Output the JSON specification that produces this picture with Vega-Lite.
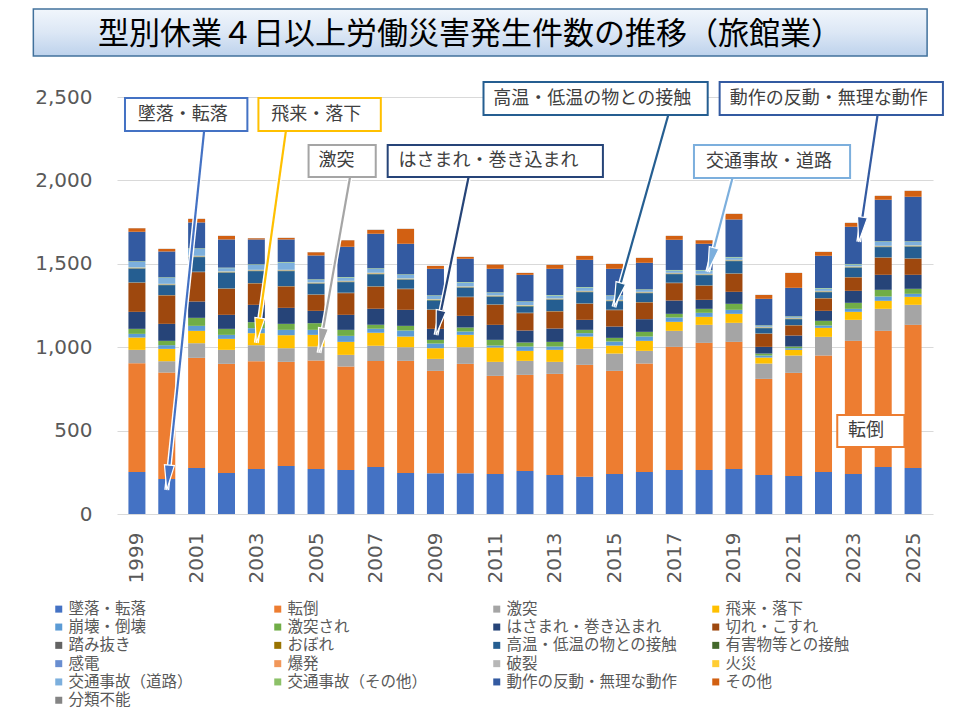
{
  "$schema": "https://vega.github.io/schema/vega-lite/v6.json",
  "autosize": "none",
  "width": 816,
  "height": 417,
  "padding": {"left": 117, "top": 97, "right": 27, "bottom": 206},
  "background": "white",
  "title": {
    "text": "型別休業４日以上労働災害発生件数の推移（旅館業）",
    "font": "Noto Sans CJK JP",
    "fontSize": 31,
    "fontWeight": "normal",
    "color": "#000000",
    "frame": "group",
    "anchor": "middle",
    "baseline": "alphabetic",
    "dx": -55,
    "offset": -67
  },
  "datasets": {
    "counts": [
      {"year": 1999, "墜落・転落": 252, "転倒": 652, "激突": 80, "飛来・落下": 74, "崩壊・倒壊": 22, "激突され": 30, "はさまれ・巻き込まれ": 102, "切れ・こすれ": 174, "踏み抜き": 2, "おぼれ": 1, "高温・低温の物との接触": 81, "有害物等との接触": 3, "感電": 1, "爆発": 1, "破裂": 1, "火災": 2, "交通事故（道路）": 34, "交通事故（その他）": 3, "動作の反動・無理な動作": 177, "その他": 21, "分類不能": 1},
      {"year": 2000, "墜落・転落": 210, "転倒": 638, "激突": 68, "飛来・落下": 74, "崩壊・倒壊": 22, "激突され": 26, "はさまれ・巻き込まれ": 102, "切れ・こすれ": 170, "踏み抜き": 2, "おぼれ": 1, "高温・低温の物との接触": 59, "有害物等との接触": 3, "感電": 1, "爆発": 1, "破裂": 1, "火災": 2, "交通事故（道路）": 36, "交通事故（その他）": 3, "動作の反動・無理な動作": 155, "その他": 15, "分類不能": 1},
      {"year": 2001, "墜落・転落": 276, "転倒": 660, "激突": 88, "飛来・落下": 74, "崩壊・倒壊": 30, "激突され": 48, "はさまれ・巻き込まれ": 98, "切れ・こすれ": 176, "踏み抜き": 2, "おぼれ": 1, "高温・低温の物との接触": 87, "有害物等との接触": 3, "感電": 1, "爆発": 1, "破裂": 1, "火災": 2, "交通事故（道路）": 42, "交通事故（その他）": 3, "動作の反動・無理な動作": 155, "その他": 21, "分類不能": 1},
      {"year": 2002, "墜落・転落": 246, "転倒": 654, "激突": 84, "飛来・落下": 66, "崩壊・倒壊": 24, "激突され": 36, "はさまれ・巻き込まれ": 84, "切れ・こすれ": 156, "踏み抜き": 2, "おぼれ": 1, "高温・低温の物との接触": 93, "有害物等との接触": 3, "感電": 1, "爆発": 1, "破裂": 1, "火災": 2, "交通事故（道路）": 20, "交通事故（その他）": 3, "動作の反動・無理な動作": 169, "その他": 21, "分類不能": 1},
      {"year": 2003, "墜落・転落": 270, "転倒": 646, "激突": 96, "飛来・落下": 72, "崩壊・倒壊": 30, "激突され": 36, "はさまれ・巻き込まれ": 104, "切れ・こすれ": 128, "踏み抜き": 2, "おぼれ": 1, "高温・低温の物との接触": 71, "有害物等との接触": 3, "感電": 1, "爆発": 1, "破裂": 1, "火災": 2, "交通事故（道路）": 30, "交通事故（その他）": 3, "動作の反動・無理な動作": 149, "その他": 7, "分類不能": 1},
      {"year": 2004, "墜落・転落": 288, "転倒": 624, "激突": 82, "飛来・落下": 78, "崩壊・倒壊": 32, "激突され": 36, "はさまれ・巻き込まれ": 96, "切れ・こすれ": 128, "踏み抜き": 2, "おぼれ": 1, "高温・低温の物との接触": 89, "有害物等との接触": 3, "感電": 1, "爆発": 1, "破裂": 1, "火災": 2, "交通事故（道路）": 44, "交通事故（その他）": 3, "動作の反動・無理な動作": 135, "その他": 9, "分類不能": 1},
      {"year": 2005, "墜落・転落": 270, "転倒": 650, "激突": 84, "飛来・落下": 70, "崩壊・倒壊": 30, "激突され": 40, "はさまれ・巻き込まれ": 74, "切れ・こすれ": 96, "踏み抜き": 2, "おぼれ": 1, "高温・低温の物との接触": 63, "有害物等との接触": 3, "感電": 1, "爆発": 1, "破裂": 1, "火災": 2, "交通事故（道路）": 16, "交通事故（その他）": 3, "動作の反動・無理な動作": 143, "その他": 19, "分類不能": 1},
      {"year": 2006, "墜落・転落": 264, "転倒": 620, "激突": 70, "飛来・落下": 78, "崩壊・倒壊": 36, "激突され": 36, "はさまれ・巻き込まれ": 90, "切れ・こすれ": 130, "踏み抜き": 2, "おぼれ": 1, "高温・低温の物との接触": 63, "有害物等との接触": 3, "感電": 1, "爆発": 1, "破裂": 1, "火災": 2, "交通事故（道路）": 20, "交通事故（その他）": 3, "動作の反動・無理な動作": 181, "その他": 39, "分類不能": 1},
      {"year": 2007, "墜落・転落": 282, "転倒": 636, "激突": 90, "飛来・落下": 78, "崩壊・倒壊": 24, "激突され": 24, "はさまれ・巻き込まれ": 96, "切れ・こすれ": 132, "踏み抜き": 2, "おぼれ": 1, "高温・低温の物との接触": 73, "有害物等との接触": 3, "感電": 1, "爆発": 1, "破裂": 1, "火災": 2, "交通事故（道路）": 24, "交通事故（その他）": 3, "動作の反動・無理な動作": 207, "その他": 23, "分類不能": 1},
      {"year": 2008, "墜落・転落": 246, "転倒": 672, "激突": 82, "飛来・落下": 64, "崩壊・倒壊": 36, "激突され": 28, "はさまれ・巻き込まれ": 96, "切れ・こすれ": 124, "踏み抜き": 2, "おぼれ": 1, "高温・低温の物との接触": 53, "有害物等との接触": 3, "感電": 1, "爆発": 1, "破裂": 1, "火災": 2, "交通事故（道路）": 22, "交通事故（その他）": 3, "動作の反動・無理な動作": 183, "その他": 89, "分類不能": 1},
      {"year": 2009, "墜落・転落": 244, "転倒": 614, "激突": 72, "飛来・落下": 64, "崩壊・倒壊": 28, "激突され": 22, "はさまれ・巻き込まれ": 66, "切れ・こすれ": 114, "踏み抜き": 2, "おぼれ": 1, "高温・低温の物との接触": 53, "有害物等との接触": 3, "感電": 1, "爆発": 1, "破裂": 1, "火災": 2, "交通事故（道路）": 20, "交通事故（その他）": 3, "動作の反動・無理な動作": 159, "その他": 17, "分類不能": 1},
      {"year": 2010, "墜落・転落": 244, "転倒": 656, "激突": 100, "飛来・落下": 74, "崩壊・倒壊": 20, "激突され": 24, "はさまれ・巻き込まれ": 70, "切れ・こすれ": 112, "踏み抜き": 2, "おぼれ": 1, "高温・低温の物との接触": 53, "有害物等との接触": 3, "感電": 1, "爆発": 1, "破裂": 1, "火災": 2, "交通事故（道路）": 24, "交通事故（その他）": 3, "動作の反動・無理な動作": 139, "その他": 11, "分類不能": 1},
      {"year": 2011, "墜落・転落": 240, "転倒": 588, "激突": 84, "飛来・落下": 86, "崩壊・倒壊": 12, "激突され": 34, "はさまれ・巻き込まれ": 90, "切れ・こすれ": 120, "踏み抜き": 2, "おぼれ": 1, "高温・低温の物との接触": 45, "有害物等との接触": 3, "感電": 1, "爆発": 1, "破裂": 1, "火災": 2, "交通事故（道路）": 16, "交通事故（その他）": 3, "動作の反動・無理な動作": 141, "その他": 25, "分類不能": 1},
      {"year": 2012, "墜落・転落": 258, "転倒": 576, "激突": 84, "飛来・落下": 60, "崩壊・倒壊": 26, "激突され": 24, "はさまれ・巻き込まれ": 72, "切れ・こすれ": 104, "踏み抜き": 2, "おぼれ": 1, "高温・低温の物との接触": 37, "有害物等との接触": 3, "感電": 1, "爆発": 1, "破裂": 1, "火災": 2, "交通事故（道路）": 20, "交通事故（その他）": 3, "動作の反動・無理な動作": 159, "その他": 11, "分類不能": 1},
      {"year": 2013, "墜落・転落": 234, "転倒": 606, "激突": 72, "飛来・落下": 72, "崩壊・倒壊": 20, "激突され": 28, "はさまれ・巻き込まれ": 80, "切れ・こすれ": 102, "踏み抜き": 2, "おぼれ": 1, "高温・低温の物との接触": 67, "有害物等との接触": 3, "感電": 1, "爆発": 1, "破裂": 1, "火災": 2, "交通事故（道路）": 18, "交通事故（その他）": 3, "動作の反動・無理な動作": 157, "その他": 23, "分類不能": 1},
      {"year": 2014, "墜落・転落": 224, "転倒": 670, "激突": 96, "飛来・落下": 74, "崩壊・倒壊": 20, "激突され": 20, "はさまれ・巻き込まれ": 60, "切れ・こすれ": 96, "踏み抜き": 2, "おぼれ": 1, "高温・低温の物との接触": 67, "有害物等との接触": 3, "感電": 1, "爆発": 1, "破裂": 1, "火災": 2, "交通事故（道路）": 20, "交通事故（その他）": 3, "動作の反動・無理な動作": 163, "その他": 23, "分類不能": 1},
      {"year": 2015, "墜落・転落": 240, "転倒": 618, "激突": 104, "飛来・落下": 48, "崩壊・倒壊": 24, "激突され": 22, "はさまれ・巻き込まれ": 68, "切れ・こすれ": 98, "踏み抜き": 2, "おぼれ": 1, "高温・低温の物との接触": 51, "有害物等との接触": 3, "感電": 1, "爆発": 1, "破裂": 1, "火災": 2, "交通事故（道路）": 24, "交通事故（その他）": 3, "動作の反動・無理な動作": 159, "その他": 29, "分類不能": 1},
      {"year": 2016, "墜落・転落": 252, "転倒": 650, "激突": 76, "飛来・落下": 60, "崩壊・倒壊": 26, "激突され": 28, "はさまれ・巻き込まれ": 76, "切れ・こすれ": 100, "踏み抜き": 2, "おぼれ": 1, "高温・低温の物との接触": 53, "有害物等との接触": 3, "感電": 1, "爆発": 1, "破裂": 1, "火災": 2, "交通事故（道路）": 12, "交通事故（その他）": 3, "動作の反動・無理な動作": 159, "その他": 29, "分類不能": 1},
      {"year": 2017, "墜落・転落": 264, "転倒": 738, "激突": 96, "飛来・落下": 54, "崩壊・倒壊": 26, "激突され": 22, "はさまれ・巻き込まれ": 80, "切れ・こすれ": 104, "踏み抜き": 2, "おぼれ": 1, "高温・低温の物との接触": 51, "有害物等との接触": 3, "感電": 1, "爆発": 1, "破裂": 1, "火災": 2, "交通事故（道路）": 14, "交通事故（その他）": 3, "動作の反動・無理な動作": 181, "その他": 23, "分類不能": 1},
      {"year": 2018, "墜落・転落": 264, "転倒": 762, "激突": 108, "飛来・落下": 48, "崩壊・倒壊": 24, "激突され": 24, "はさまれ・巻き込まれ": 54, "切れ・こすれ": 84, "踏み抜き": 2, "おぼれ": 1, "高温・低温の物との接触": 61, "有害物等との接触": 3, "感電": 1, "爆発": 1, "破裂": 1, "火災": 2, "交通事故（道路）": 20, "交通事故（その他）": 3, "動作の反動・無理な動作": 157, "その他": 21, "分類不能": 1},
      {"year": 2019, "墜落・転落": 270, "転倒": 762, "激突": 114, "飛来・落下": 54, "崩壊・倒壊": 24, "激突され": 36, "はさまれ・巻き込まれ": 72, "切れ・こすれ": 108, "踏み抜き": 2, "おぼれ": 1, "高温・低温の物との接触": 73, "有害物等との接触": 3, "感電": 1, "爆発": 1, "破裂": 1, "火災": 2, "交通事故（道路）": 14, "交通事故（その他）": 3, "動作の反動・無理な動作": 225, "その他": 33, "分類不能": 1},
      {"year": 2020, "墜落・転落": 234, "転倒": 576, "激突": 92, "飛来・落下": 36, "崩壊・倒壊": 12, "激突され": 12, "はさまれ・巻き込まれ": 40, "切れ・こすれ": 78, "踏み抜き": 2, "おぼれ": 1, "高温・低温の物との接触": 31, "有害物等との接触": 3, "感電": 1, "爆発": 1, "破裂": 1, "火災": 2, "交通事故（道路）": 6, "交通事故（その他）": 3, "動作の反動・無理な動作": 159, "その他": 23, "分類不能": 1},
      {"year": 2021, "墜落・転落": 228, "転倒": 618, "激突": 104, "飛来・落下": 34, "崩壊・倒壊": 10, "激突され": 10, "はさまれ・巻き込まれ": 66, "切れ・こすれ": 60, "踏み抜き": 2, "おぼれ": 1, "高温・低温の物との接触": 35, "有害物等との接触": 3, "感電": 1, "爆発": 1, "破裂": 1, "火災": 2, "交通事故（道路）": 6, "交通事故（その他）": 3, "動作の反動・無理な動作": 171, "その他": 89, "分類不能": 1},
      {"year": 2022, "墜落・転落": 252, "転倒": 698, "激突": 112, "飛来・落下": 54, "崩壊・倒壊": 14, "激突され": 28, "はさまれ・巻き込まれ": 60, "切れ・こすれ": 74, "踏み抜き": 2, "おぼれ": 1, "高温・低温の物との接触": 35, "有害物等との接触": 3, "感電": 1, "爆発": 1, "破裂": 1, "火災": 2, "交通事故（道路）": 14, "交通事故（その他）": 3, "動作の反動・無理な動作": 193, "その他": 23, "分類不能": 1},
      {"year": 2023, "墜落・転落": 240, "転倒": 798, "激突": 126, "飛来・落下": 48, "崩壊・倒壊": 18, "激突され": 36, "はさまれ・巻き込まれ": 72, "切れ・こすれ": 80, "踏み抜き": 2, "おぼれ": 1, "高温・低温の物との接触": 55, "有害物等との接触": 3, "感電": 1, "爆発": 1, "破裂": 1, "火災": 2, "交通事故（道路）": 12, "交通事故（その他）": 3, "動作の反動・無理な動作": 223, "その他": 23, "分類不能": 1},
      {"year": 2024, "墜落・転落": 282, "転倒": 816, "激突": 132, "飛来・落下": 48, "崩壊・倒壊": 26, "激突され": 40, "はさまれ・巻き込まれ": 90, "切れ・こすれ": 102, "踏み抜き": 2, "おぼれ": 1, "高温・低温の物との接触": 61, "有害物等との接触": 3, "感電": 1, "爆発": 1, "破裂": 1, "火災": 2, "交通事故（道路）": 24, "交通事故（その他）": 3, "動作の反動・無理な動作": 249, "その他": 23, "分類不能": 1},
      {"year": 2025, "墜落・転落": 276, "転倒": 858, "激突": 120, "飛来・落下": 48, "崩壊・倒壊": 18, "激突され": 30, "はさまれ・巻き込まれ": 84, "切れ・こすれ": 96, "踏み抜き": 2, "おぼれ": 1, "高温・低温の物との接触": 69, "有害物等との接触": 3, "感電": 1, "爆発": 1, "破裂": 1, "火災": 2, "交通事故（道路）": 22, "交通事故（その他）": 3, "動作の反動・無理な動作": 267, "その他": 35, "分類不能": 1}
    ],
    "callouts": [
      {"区分": "墜落・転落", "label": "墜落・転落", "x1": 1998.6, "x2": 2002.7, "y1": 2296, "y2": 2494, "tx": 1999.03, "ty": 2395},
      {"区分": "飛来・落下", "label": "飛来・落下", "x1": 2003.07, "x2": 2007.17, "y1": 2296, "y2": 2494, "tx": 2003.5, "ty": 2395},
      {"区分": "激突", "label": "激突", "x1": 2004.75, "x2": 2007.0, "y1": 2020, "y2": 2212, "tx": 2005.08, "ty": 2116},
      {"区分": "はさまれ・巻き込まれ", "label": "はさまれ・巻き込まれ", "x1": 2007.4, "x2": 2014.61, "y1": 2020, "y2": 2212, "tx": 2007.76, "ty": 2116},
      {"区分": "高温・低温の物との接触", "label": "高温・低温の物との接触", "x1": 2010.61, "x2": 2018.12, "y1": 2392, "y2": 2590, "tx": 2010.94, "ty": 2491},
      {"区分": "動作の反動・無理な動作", "label": "動作の反動・無理な動作", "x1": 2018.52, "x2": 2026.0, "y1": 2392, "y2": 2590, "tx": 2018.86, "ty": 2491},
      {"区分": "交通事故（道路）", "label": "交通事故・道路", "x1": 2017.66, "x2": 2022.89, "y1": 2014, "y2": 2212, "tx": 2018.06, "ty": 2113},
      {"区分": "転倒", "label": "転倒", "x1": 2022.46, "x2": 2024.71, "y1": 402, "y2": 594, "tx": 2022.82, "ty": 498}
    ],
    "arrows": [
      {"区分": "墜落・転落", "x1": 2001.25, "y1": 2296, "x2": 2000.0, "y2": 144},
      {"区分": "飛来・落下", "x1": 2003.99, "y1": 2296, "x2": 2003.0, "y2": 1026},
      {"区分": "激突", "x1": 2006.14, "y1": 2020, "x2": 2005.1, "y2": 966},
      {"区分": "はさまれ・巻き込まれ", "x1": 2010.11, "y1": 2020, "x2": 2009.02, "y2": 1073},
      {"区分": "高温・低温の物との接触", "x1": 2016.8, "y1": 2392, "x2": 2014.98, "y2": 1241},
      {"区分": "動作の反動・無理な動作", "x1": 2023.81, "y1": 2392, "x2": 2023.18, "y2": 1631},
      {"区分": "交通事故（道路）", "x1": 2018.95, "y1": 2014, "x2": 2018.12, "y2": 1451}
    ]
  },
  "layer": [
    {
      "data": {"name": "counts"},
      "transform": [
        {"fold": ["墜落・転落", "転倒", "激突", "飛来・落下", "崩壊・倒壊", "激突され", "はさまれ・巻き込まれ", "切れ・こすれ", "踏み抜き", "おぼれ", "高温・低温の物との接触", "有害物等との接触", "感電", "爆発", "破裂", "火災", "交通事故（道路）", "交通事故（その他）", "動作の反動・無理な動作", "その他", "分類不能"], "as": ["区分", "件数"]},
        {"calculate": "indexof(['墜落・転落', '転倒', '激突', '飛来・落下', '崩壊・倒壊', '激突され', 'はさまれ・巻き込まれ', '切れ・こすれ', '踏み抜き', 'おぼれ', '高温・低温の物との接触', '有害物等との接触', '感電', '爆発', '破裂', '火災', '交通事故（道路）', '交通事故（その他）', '動作の反動・無理な動作', 'その他', '分類不能'], datum['区分'])", "as": "stack_order"}
      ],
      "mark": {"type": "bar", "width": 17},
      "encoding": {
        "x": {
          "field": "year", "type": "quantitative", "title": null,
          "scale": {"domain": [1998.5, 2025.5], "nice": false, "zero": false},
          "axis": {
            "values": [1999, 2001, 2003, 2005, 2007, 2009, 2011, 2013, 2015, 2017, 2019, 2021, 2023, 2025],
            "format": "d", "labelAngle": -90, "grid": false, "domain": false, "ticks": false,
            "labelFont": "DejaVu Sans", "labelFontSize": 20, "labelColor": "#595959", "labelPadding": 18
          }
        },
        "y": {
          "field": "件数", "type": "quantitative", "title": null, "stack": "zero",
          "scale": {"domain": [0, 2500], "nice": false},
          "axis": {
            "values": [0, 500, 1000, 1500, 2000, 2500], "format": ",d",
            "gridColor": "#D9D9D9", "domain": false, "ticks": false,
            "labelFont": "DejaVu Sans", "labelFontSize": 20, "labelColor": "#595959", "labelPadding": 25
          }
        },
        "order": {"field": "stack_order", "type": "quantitative"},
        "color": {
          "field": "区分", "type": "nominal",
          "scale": {
            "domain": ["墜落・転落", "転倒", "激突", "飛来・落下", "崩壊・倒壊", "激突され", "はさまれ・巻き込まれ", "切れ・こすれ", "踏み抜き", "おぼれ", "高温・低温の物との接触", "有害物等との接触", "感電", "爆発", "破裂", "火災", "交通事故（道路）", "交通事故（その他）", "動作の反動・無理な動作", "その他", "分類不能"],
            "range": ["#4472C4", "#ED7D31", "#A5A5A5", "#FFC000", "#5B9BD5", "#70AD47", "#264478", "#9E480E", "#636363", "#997300", "#255E91", "#43682B", "#698ED0", "#F1975A", "#B7B7B7", "#FFCD33", "#7CAFDD", "#8CC168", "#335AA1", "#D26012", "#848484"]
          },
          "legend": {
            "orient": "none", "legendX": -66, "legendY": 504, "columns": 4, "direction": "horizontal", "title": null,
            "symbolType": "square", "symbolSize": 49, "symbolStrokeWidth": 0,
            "labelFont": "Noto Sans CJK JP", "labelFontSize": 15.5, "labelColor": "#595959",
            "labelOffset": 2, "columnPadding": 30, "rowPadding": 1.3, "gridAlign": "all",
            "labelLimit": 400, "padding": 0
          }
        }
      }
    },
    {
      "data": {"values": [{}]},
      "mark": {
        "type": "rect",
        "fill": {"gradient": "linear", "x1": 0, "y1": 0, "x2": 0, "y2": 1, "stops": [{"offset": 0, "color": "#F1F6FC"}, {"offset": 0.5, "color": "#DCE7F5"}, {"offset": 1, "color": "#BDD2EC"}]},
        "stroke": "#41719C", "strokeWidth": 1.5
      },
      "encoding": {
        "x": {"datum": 1995.53, "type": "quantitative", "title": null},
        "x2": {"datum": 2025.47},
        "y": {"datum": 2746, "type": "quantitative", "title": null},
        "y2": {"datum": 3027}
      }
    },
    {
      "data": {"name": "arrows"},
      "mark": {"type": "rule", "stroke": "white", "strokeWidth": 5},
      "encoding": {
        "x": {"field": "x1", "type": "quantitative", "title": null},
        "y": {"field": "y1", "type": "quantitative", "title": null},
        "x2": {"field": "x2"},
        "y2": {"field": "y2"}
      }
    },
    {
      "data": {"name": "arrows"},
      "mark": {"type": "rule", "strokeWidth": 2.2},
      "encoding": {
        "x": {"field": "x1", "type": "quantitative", "title": null},
        "y": {"field": "y1", "type": "quantitative", "title": null},
        "x2": {"field": "x2"},
        "y2": {"field": "y2"},
        "stroke": {
          "field": "区分", "type": "nominal", "legend": null,
          "scale": {
            "domain": ["墜落・転落", "転倒", "激突", "飛来・落下", "はさまれ・巻き込まれ", "高温・低温の物との接触", "交通事故（道路）", "動作の反動・無理な動作"],
            "range": ["#4472C4", "#ED7D31", "#A5A5A5", "#FFC000", "#264478", "#255E91", "#7CAFDD", "#335AA1"]
          }
        }
      }
    },
    {
      "data": {"name": "arrows"},
      "transform": [
        {"calculate": "atan2((datum.x1 - datum.x2) * 30.22, (datum.y1 - datum.y2) * 0.1668) * 180 / PI", "as": "angle"}
      ],
      "mark": {"type": "point", "shape": "M0,0L-0.2,-1L0.2,-1Z", "size": 2500, "filled": true, "stroke": "white", "strokeWidth": 1.2, "opacity": 1},
      "encoding": {
        "x": {"field": "x2", "type": "quantitative", "title": null},
        "y": {"field": "y2", "type": "quantitative", "title": null},
        "angle": {"field": "angle", "type": "quantitative", "scale": null},
        "fill": {"field": "区分", "type": "nominal", "legend": null, "scale": {
            "domain": ["墜落・転落", "転倒", "激突", "飛来・落下", "はさまれ・巻き込まれ", "高温・低温の物との接触", "交通事故（道路）", "動作の反動・無理な動作"],
            "range": ["#4472C4", "#ED7D31", "#A5A5A5", "#FFC000", "#264478", "#255E91", "#7CAFDD", "#335AA1"]
          }}
      }
    },
    {
      "data": {"name": "callouts"},
      "mark": {"type": "rect", "fill": "white", "strokeWidth": 2},
      "encoding": {
        "x": {"field": "x1", "type": "quantitative", "title": null},
        "x2": {"field": "x2"},
        "y": {"field": "y1", "type": "quantitative", "title": null},
        "y2": {"field": "y2"},
        "stroke": {"field": "区分", "type": "nominal", "legend": null}
      }
    },
    {
      "data": {"name": "callouts"},
      "mark": {"type": "text", "align": "left", "baseline": "middle", "font": "Noto Sans CJK JP", "fontSize": 18, "color": "#404040"},
      "encoding": {
        "x": {"field": "tx", "type": "quantitative", "title": null},
        "y": {"field": "ty", "type": "quantitative", "title": null},
        "text": {"field": "label"}
      }
    }
  ],
  "config": {
    "view": {"stroke": null},
    "font": "Noto Sans CJK JP"
  }
}
